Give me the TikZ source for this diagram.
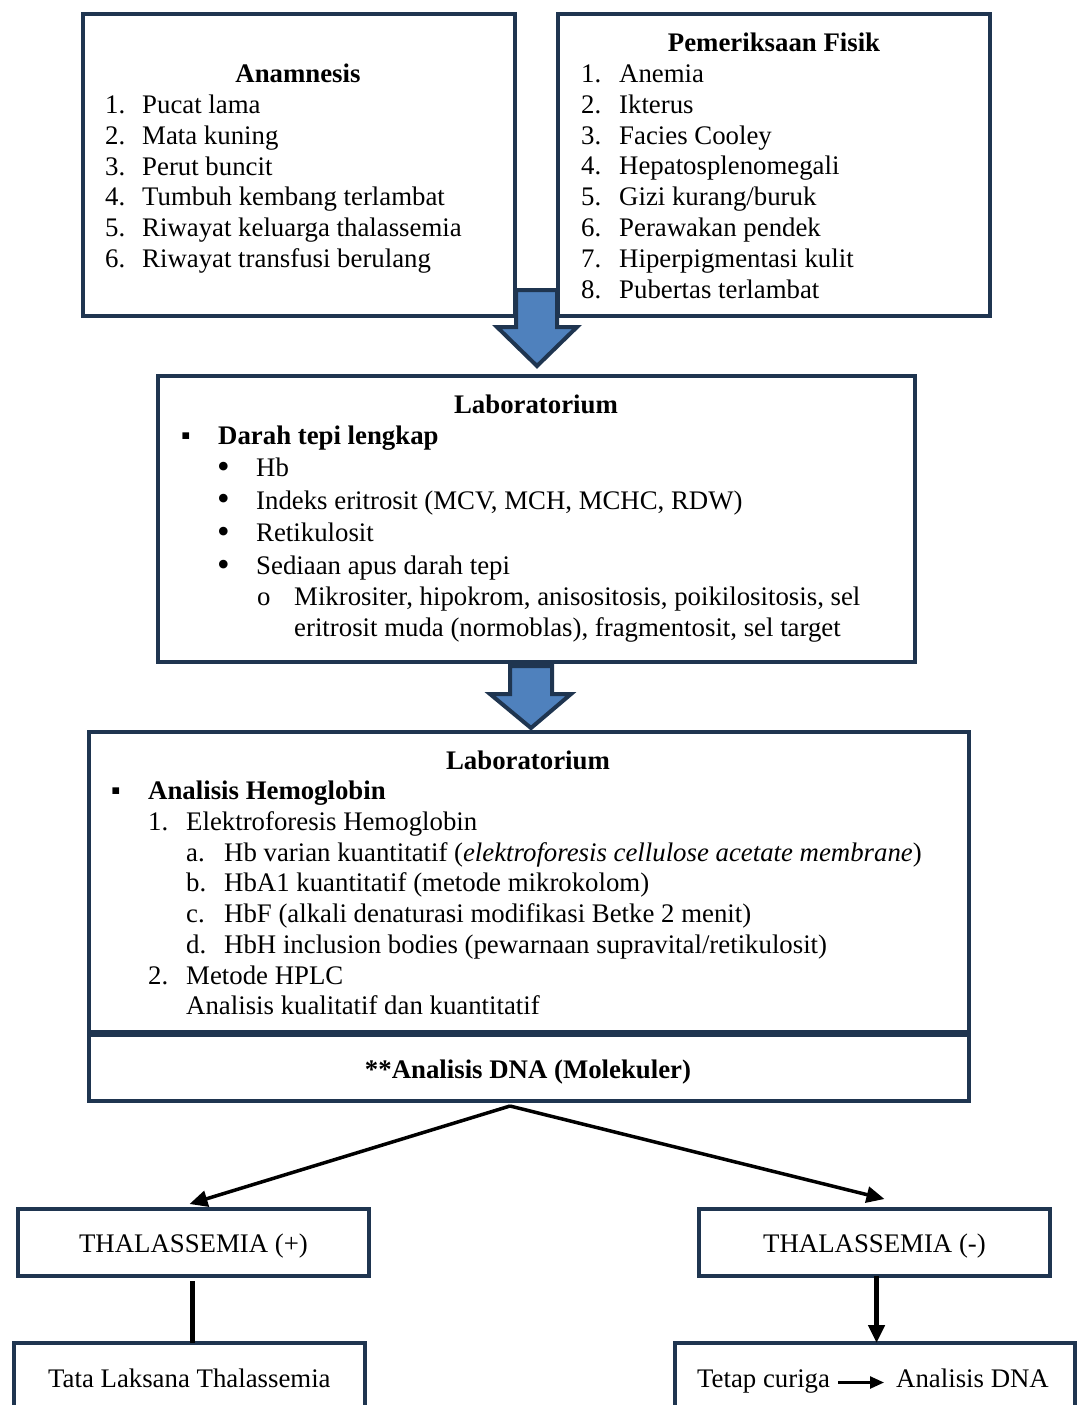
\documentclass[tikz,border=0pt]{standalone}
\usepackage{fontspec}
\setmainfont{Liberation Serif}
\usetikzlibrary{arrows.meta,calc}
\definecolor{navy}{HTML}{1F3550}
\definecolor{arrowblue}{HTML}{4F81BD}
\newcommand{\bigbul}{{\fontsize{36}{30}\selectfont\raisebox{-1.5pt}{•}}}
\begin{document}
\begin{tikzpicture}[x=1pt,y=-1pt,
  box/.style={draw=navy,line width=4.5pt,anchor=north west,inner sep=0pt,outer sep=0pt,fill=white},
  txt/.style={anchor=base west,inner sep=0pt,font=\fontsize{26.8}{30}\selectfont,yshift=-1.5pt},
  ctxt/.style={anchor=base,inner sep=0pt,font=\fontsize{26.8}{30}\selectfont},
  ttl/.style={anchor=base,inner sep=0pt,font=\fontsize{26.8}{30}\selectfont\bfseries,yshift=-1.5pt},
  btxt/.style={anchor=base west,inner sep=0pt,font=\fontsize{26.8}{30}\selectfont\bfseries,yshift=-1.5pt},
  blk/.style={draw=navy,fill=arrowblue,line width=4pt,line join=miter},
  conn/.style={line width=3.5pt,-{Triangle[length=18pt,width=16pt]}},
  plain/.style={line width=4.5pt}]
\fill[white] (0,0) rectangle (1078,1405);
\clip (0,0) rectangle (1078,1405);

% ---------- boxes ----------
\node[box,minimum width=432pt,minimum height=302pt] (anam) at (83,14) {};
\node[box,minimum width=432pt,minimum height=302pt] (fisik) at (558,14) {};
\node[box,minimum width=757pt,minimum height=286pt] (lab1) at (158,376) {};
\node[box,minimum width=880pt,minimum height=300pt] (lab2) at (89,732) {};
\node[box,minimum width=880pt,minimum height=66pt] (dna) at (89,1035) {};
\node[box,minimum width=351pt,minimum height=67pt] (tplus) at (18,1209) {};
\node[box,minimum width=351pt,minimum height=67pt] (tminus) at (699,1209) {};
\node[box,minimum width=351pt,minimum height=100pt] (tl) at (14,1343) {};
\node[box,minimum width=400pt,minimum height=100pt] (tc) at (675,1343) {};

% ---------- block arrows ----------
\draw[blk] (516,290) -- (557,290) -- (557,327) -- (577,327) -- (537,366) -- (497,327) -- (516,327) -- cycle;
\draw[blk] (510,666) -- (552,666) -- (552,694) -- (571,694) -- (531,728) -- (490,694) -- (510,694) -- cycle;

% ---------- Anamnesis ----------
\node[ttl] (anamT) at (298,81) {Anamnesis};
\foreach \t [count=\i] in {Pucat lama,Mata kuning,Perut buncit,Tumbuh kembang terlambat,Riwayat keluarga thalassemia,Riwayat transfusi berulang}{
  \node[txt] (anN\i) at (105,{81+\i*30.85}) {\i.};
  \node[txt] (anT\i) at (142,{81+\i*30.85}) {\t};
}

% ---------- Pemeriksaan Fisik ----------
\node[ttl] (fisT) at (774,50) {Pemeriksaan Fisik};
\foreach \t [count=\i] in {Anemia,Ikterus,Facies Cooley,Hepatosplenomegali,Gizi kurang/buruk,Perawakan pendek,Hiperpigmentasi kulit,Pubertas terlambat}{
  \node[txt] (fiN\i) at (581,{50+\i*30.85}) {\i.};
  \node[txt] (fiT\i) at (619,{50+\i*30.85}) {\t};
}

% ---------- Laboratorium 1 ----------
\node[ttl] (l1T) at (536,412) {Laboratorium};
\node[txt] (l1sq) at (181,443) {▪};
\node[btxt] (l1h) at (218,443) {Darah tepi lengkap};
\node[txt] (l1b1) at (217,475) {\bigbul};
\node[txt] (l1t1) at (256,475) {Hb};
\node[txt] (l1b2) at (217,507.5) {\bigbul};
\node[txt] (l1t2) at (256,507.5) {Indeks eritrosit (MCV, MCH, MCHC, RDW)};
\node[txt] (l1b3) at (217,540) {\bigbul};
\node[txt] (l1t3) at (256,540) {Retikulosit};
\node[txt] (l1b4) at (217,573) {\bigbul};
\node[txt] (l1t4) at (256,573) {Sediaan apus darah tepi};
\node[txt] (l1o) at (257,604) {o};
\node[txt] (l1t5) at (294,604) {Mikrositer, hipokrom, anisositosis, poikilositosis, sel};
\node[txt] (l1t6) at (294,635) {eritrosit muda (normoblas), fragmentosit, sel target};

% ---------- Laboratorium 2 ----------
\node[ttl] (l2T) at (528,768) {Laboratorium};
\node[txt] (l2sq) at (111,798) {▪};
\node[btxt] (l2h) at (148,798) {Analisis Hemoglobin};
\node[txt] (l2n1) at (148,829) {1.};
\node[txt] (l2t1) at (186,829) {Elektroforesis Hemoglobin};
\node[txt] (l2a) at (186,860) {a.};
\node[txt] (l2ta) at (224,860) {Hb varian kuantitatif (\textit{elektroforesis cellulose acetate membrane})};
\node[txt] (l2b) at (186,890) {b.};
\node[txt] (l2tb) at (224,890) {HbA1 kuantitatif (metode mikrokolom)};
\node[txt] (l2c) at (186,921) {c.};
\node[txt] (l2tc) at (224,921) {HbF (alkali denaturasi modifikasi Betke 2 menit)};
\node[txt] (l2d) at (186,952) {d.};
\node[txt] (l2td) at (224,952) {HbH inclusion bodies (pewarnaan supravital/retikulosit)};
\node[txt] (l2n2) at (148,983) {2.};
\node[txt] (l2t2) at (186,983) {Metode HPLC};
\node[txt] (l2t3) at (186,1013) {Analisis kualitatif dan kuantitatif};

% ---------- DNA ----------
\node[ttl] (dnaT) at (528,1077) {**Analisis DNA (Molekuler)};

% ---------- bottom texts ----------
\node[ctxt] (tplusT) at (193.5,1252) {THALASSEMIA (+)};
\node[ctxt] (tminusT) at (874.5,1252) {THALASSEMIA (-)};
\node[txt] (tlT) at (48,1386) {Tata Laksana Thalassemia};
\node[txt] (tcA) at (697,1386) {Tetap curiga};
\node[txt] (tcB) at (896,1386) {Analisis DNA};

% ---------- connectors ----------
\coordinate (split) at (510,1106);
\coordinate (tpb) at ($(tplus.south)+(-1,0)$);
\coordinate (tmb) at ($(tminus.south)+(2,0)$);
\draw[conn] (split) -- ($(tplus.north)+(-4,-5)$);
\draw[conn] (split) -- ($(tminus.north)+(10,-10)$);
\draw[plain] ($(tpb)+(0,5)$) -- (tpb |- tl.north);
\draw[conn,line width=4.5pt] (tmb) -- (tmb |- tl.north);
\draw[line width=2.5pt,-{Triangle[length=14pt,width=12pt]}] ($(tcA.base east)+(8,-5)$) -- ($(tcB.base west)+(-12,-5)$);
\end{tikzpicture}
\end{document}
